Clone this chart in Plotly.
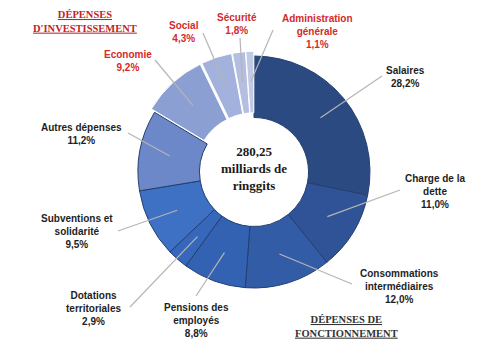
import math
import plotly.graph_objects as go

labels = ["Salaires", "Charge de la dette", "Consommations intermédiaires",
          "Pensions des employés", "Dotations territoriales",
          "Subventions et solidarité", "Autres dépenses",
          "Economie", "Social", "Sécurité", "Administration générale"]
label_text = ["Salaires", "Charge de la<br>dette", "Consommations<br>intermédiaires",
              "Pensions des<br>employés", "Dotations<br>territoriales",
              "Subventions et<br>solidarité", "Autres dépenses",
              "Economie", "Social", "Sécurité", "Administration<br>générale"]
values = [28.2, 11.0, 12.0, 8.8, 2.9, 9.5, 11.2, 9.2, 4.3, 1.8, 1.1]
investment = [False] * 7 + [True] * 4
center_lines = ["280,25", "milliards de", "ringgits"]

colors = ["#2b4a82", "#2f5396", "#325ca6", "#3462b2", "#3767ba", "#3e70c4",
          "#6d88c9", "#8b9fd3", "#a3b2dc", "#b3bee1", "#c0c9e6"]
line_colors = ["#24406f"] * 7 + ["#ffffff"] * 4
pull_amt = 0.04
pulls = [pull_amt if inv else 0 for inv in investment]

W, H = 501, 354
cx, cy, r = 254, 172, 116
half = r * (1 + pull_amt)

fig = go.Figure(go.Pie(
    labels=labels, values=values, sort=False, direction="clockwise", rotation=0,
    hole=0.47, pull=pulls, textinfo="none", hoverinfo="label+percent",
    marker=dict(colors=colors, line=dict(color=line_colors, width=1)),
    showlegend=False,
    domain=dict(x=[(cx - half) / W, (cx + half) / W],
                y=[1 - (cy + half) / H, 1 - (cy - half) / H]),
))

# label anchor positions (pixels) and text centers
anchors = [(382, 76), (400, 190), (352, 284), (196, 296), (130, 307), (118, 231),
           (128, 133), (155, 60), (203, 33), (240, 38), (273, 30)]
text_pos = [(405, 77), (435, 191), (399, 286), (196, 320), (93, 308), (77, 232),
            (81, 134), (128, 61), (184, 32), (237, 24), (317, 31)]

cum = 0.0
shapes = []
annotations = []
for i, v in enumerate(values):
    theta = 2 * math.pi * (cum + v / 2) / 100.0
    cum += v
    rho = r * 0.74 + (pulls[i] * r)
    sx = cx + rho * math.sin(theta)
    sy = cy - rho * math.cos(theta)
    ax_, ay_ = anchors[i]
    shapes.append(dict(type="line", xref="paper", yref="paper",
                       x0=ax_ / W, y0=1 - ay_ / H, x1=sx / W, y1=1 - sy / H,
                       line=dict(color="#b5b5b5", width=1.2)))
    tx, ty = text_pos[i]
    col = "#d42a2a" if investment[i] else "#1e1e1e"
    pct = f"{v:.1f}".replace(".", ",") + "%"
    annotations.append(dict(xref="paper", yref="paper", x=tx / W, y=1 - ty / H,
                            text=f"<b>{label_text[i]}<br>{pct}</b>", showarrow=False,
                            font=dict(family="Liberation Sans", size=10, color=col),
                            align="center", xanchor="center", yanchor="middle"))

annotations.append(dict(xref="paper", yref="paper", x=cx / W, y=1 - 168 / H,
                        text="<b>" + "<br>".join(center_lines) + "</b>", showarrow=False,
                        font=dict(family="Liberation Serif", size=13, color="#1a1a1a"),
                        align="center", xanchor="center", yanchor="middle"))
annotations.append(dict(xref="paper", yref="paper", x=85 / W, y=1 - 22 / H,
                        text="<b><u>DÉPENSES</u><br><u>D'INVESTISSEMENT</u></b>", showarrow=False,
                        font=dict(family="Liberation Serif", size=10.5, color="#c0242a"),
                        align="center", xanchor="center", yanchor="middle"))
annotations.append(dict(xref="paper", yref="paper", x=346 / W, y=1 - 326 / H,
                        text="<b><u>DÉPENSES DE</u><br><u>FONCTIONNEMENT</u></b>", showarrow=False,
                        font=dict(family="Liberation Serif", size=10.5, color="#333333"),
                        align="center", xanchor="center", yanchor="middle"))

fig.update_layout(width=W, height=H, margin=dict(l=0, r=0, t=0, b=0),
                  paper_bgcolor="white", plot_bgcolor="white",
                  shapes=shapes, annotations=annotations)
fig.write_html("out.html")
